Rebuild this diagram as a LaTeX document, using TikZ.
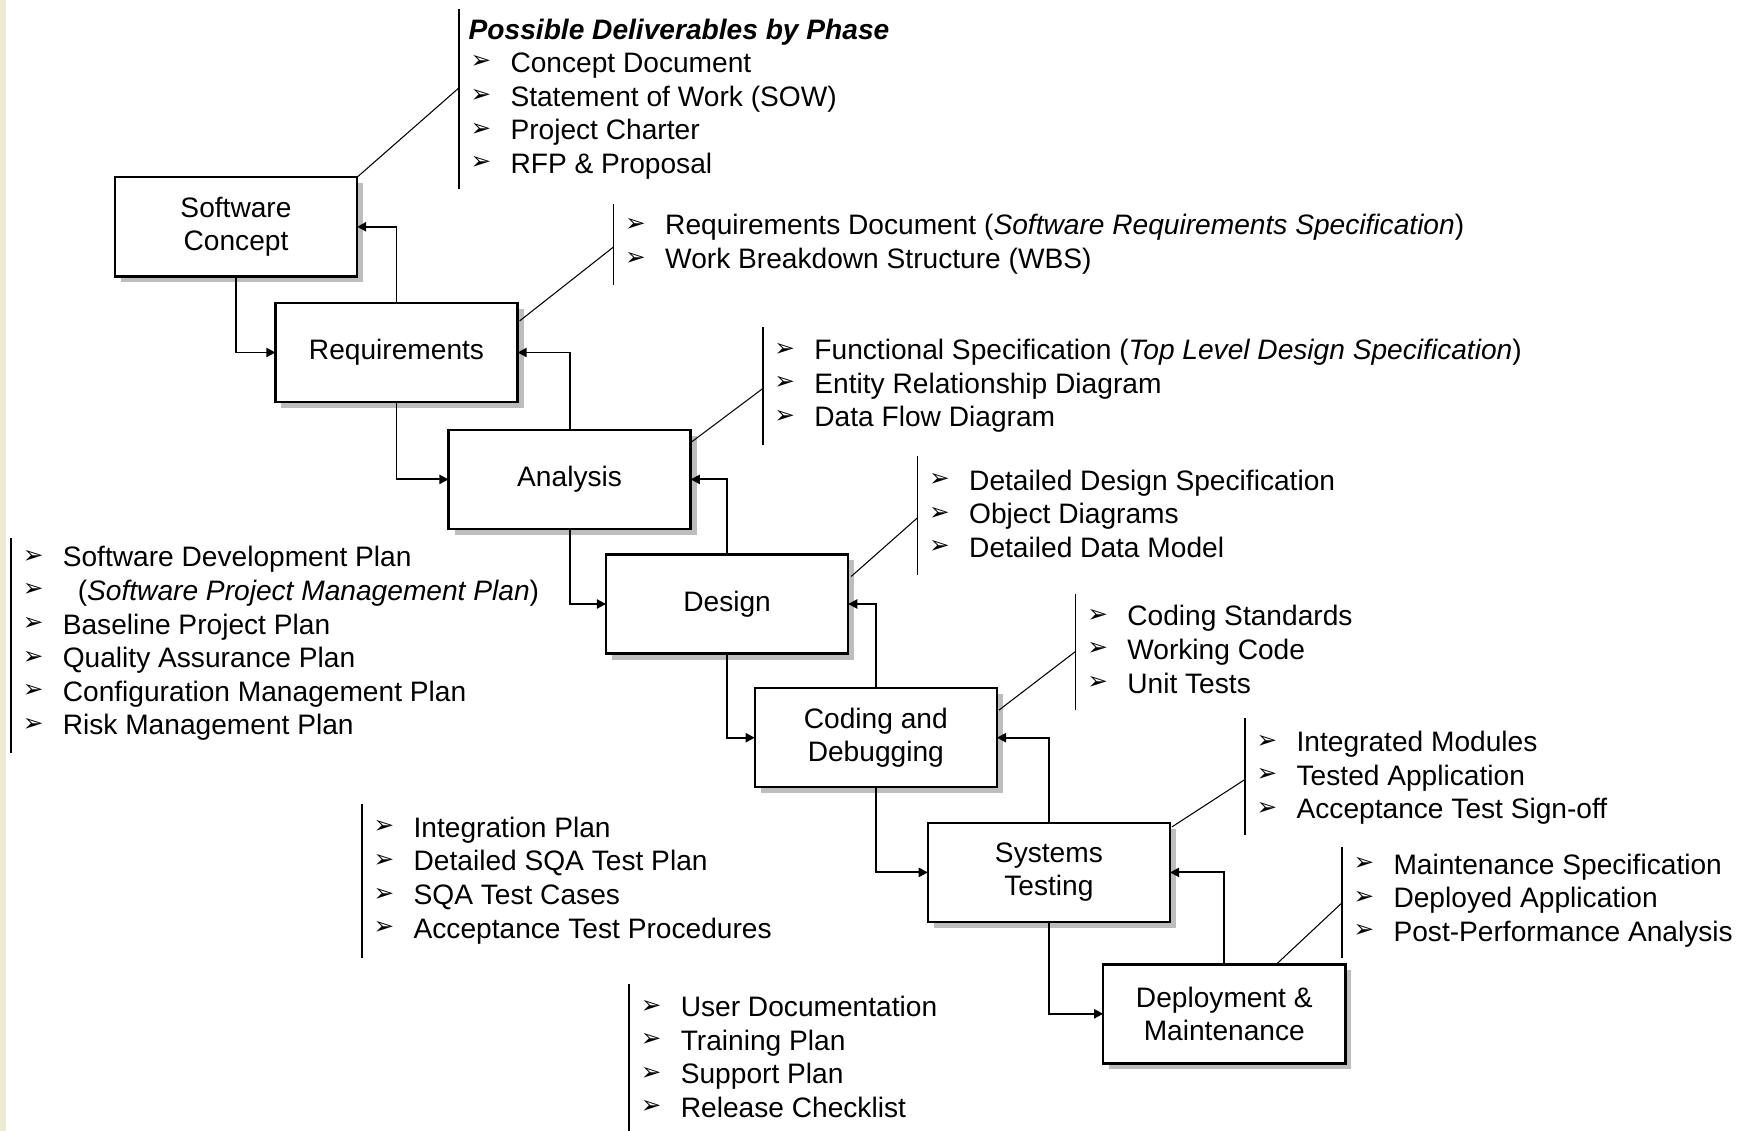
\documentclass[tikz,border=0pt]{standalone}
\usepackage{fontspec}
\setmainfont{Liberation Sans}
\newfontfamily\bulletfont{DejaVu Sans}
\usepackage{xcolor}
\usepackage{tikz}
\usetikzlibrary{arrows.meta, shadows}

\definecolor{pagebeige}{HTML}{ECEAD6}
\definecolor{shadowgray}{HTML}{BDBDBD}

% deliverables list: name, bar x, bar top, bar bottom, first row y, rows
\newcommand{\deliv}[6]{%
  \draw[bar] (#2,#3) -- (#2,#4);
  \foreach \t [count=\i] in {#6} {
    \node[bul] (#1b\i) at (#2+11,#5+33.6*\i-33.6) {\bulletfont ➢};
    \node[item] (#1t\i) at (#2+51,#5+33.6*\i-33.6) {\t};
  }
}

\begin{document}
\begin{tikzpicture}[x=0.01cm, y=-0.01cm,
  every node/.style={font=\fontsize{8}{9.4}\selectfont},
  phase/.style={draw, line width=0.7pt, fill=white, align=center,
    minimum width=2.42cm, minimum height=0.99cm, inner sep=0pt, outer sep=0pt,
    drop shadow={shadow xshift=0.06cm, shadow yshift=-0.06cm, fill=shadowgray, opacity=1}},
  flow/.style={line width=0.55pt, -{Triangle[length=2.6pt, width=2.6pt]}},
  bar/.style={line width=0.45pt},
  lead/.style={line width=0.3pt},
  bul/.style={anchor=west, inner sep=0pt, font=\fontsize{7}{8}\selectfont},
  item/.style={anchor=west, inner sep=0pt, text height=5.7pt, text depth=0pt}]
  \useasboundingbox (0,0) rectangle (1746,1131);
  % Page edge
  \fill[pagebeige] (0,0) rectangle (6,1131);
  % Phases
  \node[phase] (sc)  at (236,226.8)    {Software\\Concept};
  \node[phase] (req) at (396.5,352.5)  {Requirements};
  \node[phase] (ana) at (569.6,479.4)  {Analysis};
  \node[phase] (des) at (727.1,604)    {Design};
  \node[phase] (cod) at (875.8,737.7)  {Coding and\\Debugging};
  \node[phase] (sys) at (1048.9,872.4) {Systems\\Testing};
  \node[phase] (dep) at (1224.3,1013.8) {Deployment \&\\Maintenance};
  % Flow down and feedback up
  \foreach \a/\b in {sc/req, req/ana, ana/des, des/cod, cod/sys, sys/dep} {
    \draw[flow] (\a.south) |- (\b.west);
    \draw[flow] (\b.north) |- (\a.east);
  }
  % Deliverables
  \node[item, font=\bfseries\itshape\fontsize{8}{9.4}\selectfont] (title) at (468,29) {Possible Deliverables by Phase};
  \deliv{dc}{458.8}{8.9}{189.3}{62.4}{Concept Document, Statement of Work (SOW), Project Charter, RFP \& Proposal}
  \deliv{dr}{613.5}{203.8}{285}{224.9}{Requirements Document (\textit{Software Requirements Specification}), Work Breakdown Structure (WBS)}
  \deliv{da}{762.7}{327.4}{445.4}{349.6}{Functional Specification (\textit{Top Level Design Specification}), Entity Relationship Diagram, Data Flow Diagram}
  \deliv{dd}{917.5}{456.5}{574.6}{480}{Detailed Design Specification, Object Diagrams, Detailed Data Model}
  \deliv{dk}{1075.6}{593.5}{710.4}{615.8}{Coding Standards, Working Code, Unit Tests}
  \deliv{ds}{1244.9}{718.2}{835.1}{741.6}{Integrated Modules, Tested Application, Acceptance Test Sign-off}
  \deliv{dm}{1341.8}{847.4}{957.6}{864.1}{Maintenance Specification, Deployed Application, Post-Performance Analysis}
  \deliv{dp}{11.1}{537.8}{752.7}{556.8}{Software Development Plan, \hspace*{1.5mm}(\textit{Software Project Management Plan}), Baseline Project Plan, Quality Assurance Plan, Configuration Management Plan, Risk Management Plan}
  \deliv{di}{361.9}{804}{957.6}{827.3}{Integration Plan, Detailed SQA Test Plan, SQA Test Cases, Acceptance Test Procedures}
  \deliv{du}{629.1}{984.4}{1131}{1006.6}{User Documentation, Training Plan, Support Plan, Release Checklist}
  % Leaders from phase to its list
  \coordinate (lc) at (458.8,88);
  \coordinate (lr) at (613.5,247);
  \coordinate (la) at (762.7,388.6);
  \coordinate (ld) at (917.5,517.8);
  \coordinate (lk) at (1075.6,651.4);
  \coordinate (ls) at (1244.9,779.5);
  \coordinate (lm) at (1341.8,903);
  \draw[lead] (sc.north east) -- (lc);
  \draw[lead] ([shift={(2,18)}]req.north east) -- (lr);
  \draw[lead] ([shift={(1,12)}]ana.north east) -- (la);
  \draw[lead] ([shift={(3,22)}]des.north east) -- (ld);
  \draw[lead] ([shift={(2,22)}]cod.north east) -- (lk);
  \draw[lead] ([shift={(2,4)}]sys.north east) -- (ls);
  \draw[lead] ([shift={(52,0)}]dep.north) -- (lm);
\end{tikzpicture}
\end{document}
